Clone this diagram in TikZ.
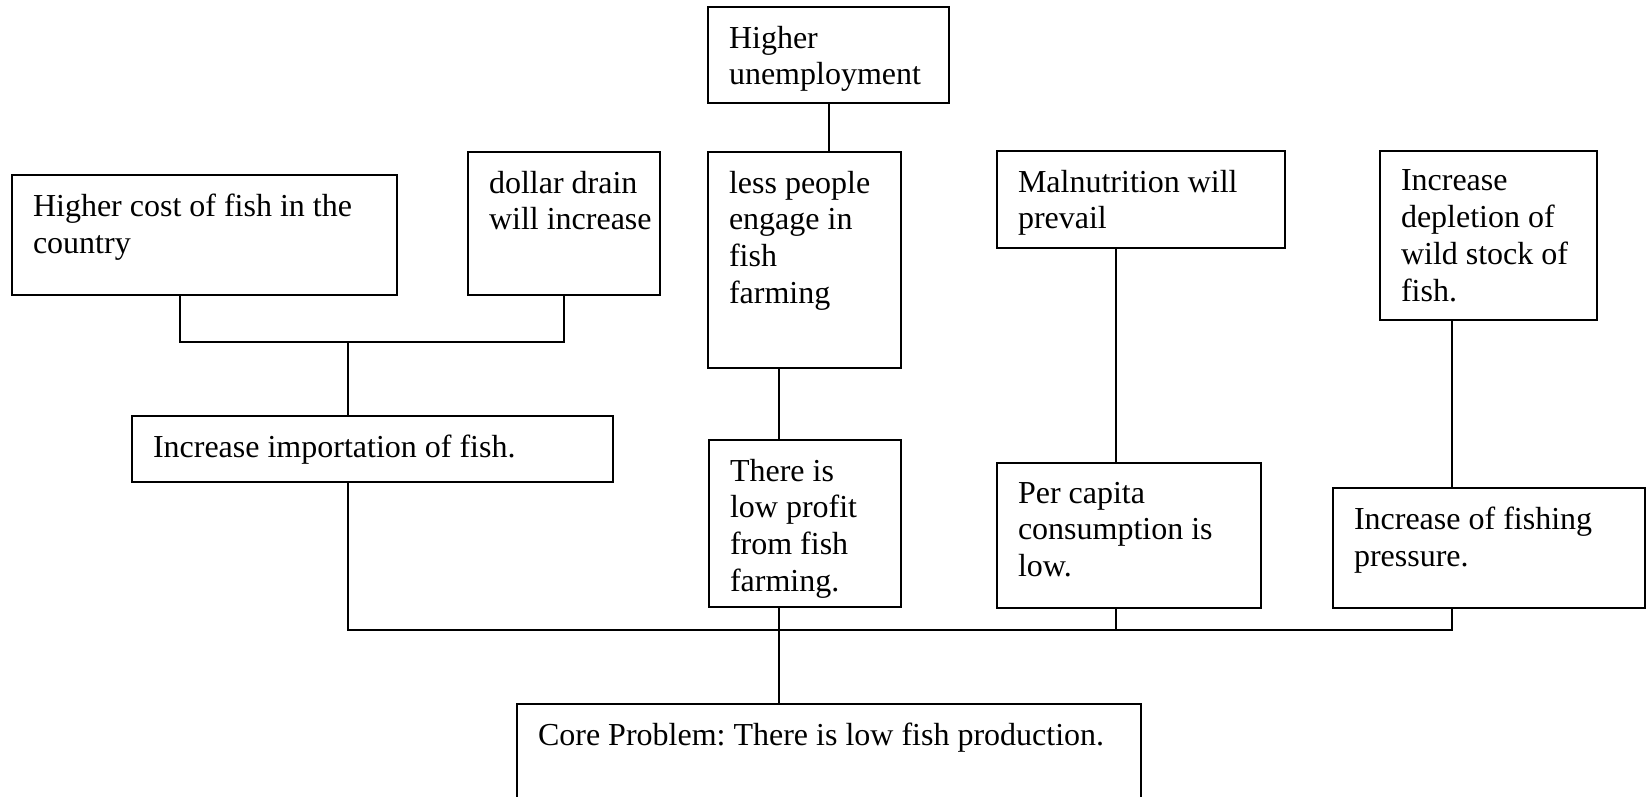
\documentclass[tikz,border=0pt]{standalone}
\usepackage{fontspec}
\setmainfont{Liberation Serif}
\frenchspacing
\begin{document}
\begin{tikzpicture}[x=0.5pt, y=-0.5pt, line width=1pt,
  boxshape/.style={draw=black, rectangle, inner sep=0pt, anchor=north west},
  boxtext/.style={inner sep=0pt, anchor=north west, align=left,
    font=\fontsize{16}{18.35}\selectfont}]
\useasboundingbox (0,0) rectangle (1646,797);
\clip (0,0) rectangle (1646,797);
\fill[white] (0,0) rectangle (1646,797);

% box: name, left, top, right, bottom, text
\newcommand\mkbox[6]{%
  \node[boxshape, minimum width={(#4-#2)*0.5pt}, minimum height={(#5-#3)*0.5pt}] (#1) at (#2,#3) {};
  \node[boxtext] (#1-t) at ([shift={(21,19)}]#1.north west) {#6};
}

\mkbox{unemp}{707}{6}{948}{102}{Higher\\unemployment}
\mkbox{cost}{11}{174}{396}{294}{Higher cost of fish in the\\country}
\mkbox{dollar}{467}{151}{659}{294}{dollar drain\\will increase}
\mkbox{less}{707}{151}{900}{367}{less people\\engage in\\fish\\farming}
\mkbox{malnut}{996}{150}{1284}{247}{Malnutrition will\\prevail}
\mkbox{deplete}{1379}{150}{1596}{319}{Increase\\depletion of\\wild stock of\\fish.}
\mkbox{import}{131}{415}{612}{481}{Increase importation of fish.}
\mkbox{profit}{708}{439}{900}{606}{There is\\low profit\\from fish\\farming.}
\mkbox{percap}{996}{462}{1260}{607}{Per capita\\consumption is\\low.}
\mkbox{fishing}{1332}{487}{1644}{607}{Increase of fishing\\pressure.}
\mkbox{core}{516}{703}{1140}{812}{Core Problem: There is low fish production.}

% junction points
\coordinate (jL) at (180,342);
\coordinate (jR) at (564,342);
\coordinate (jM) at (348,342);
\coordinate (bA) at (348,630);
\coordinate (bB) at (779,630);
\coordinate (bC) at (1116,630);
\coordinate (bD) at (1452,630);

% upper-left fork
\draw (jL |- cost.south) -- (jL) -- (jR) -- (jR |- dollar.south);
\draw (jM) -- (jM |- import.north);

% vertical links between stacked boxes
\draw (unemp.south) -- (unemp.south |- less.north);
\draw (bB |- less.south) -- (bB |- profit.north);
\draw (bC |- malnut.south) -- (bC |- percap.north);
\draw (bD |- deplete.south) -- (bD |- fishing.north);

% main bus into the core problem
\draw (bA |- import.south) -- (bA) -- (bD) -- (bD |- fishing.south);
\draw (bB |- profit.south) -- (bB |- core.north);
\draw (bC |- percap.south) -- (bC);
\end{tikzpicture}
\end{document}
